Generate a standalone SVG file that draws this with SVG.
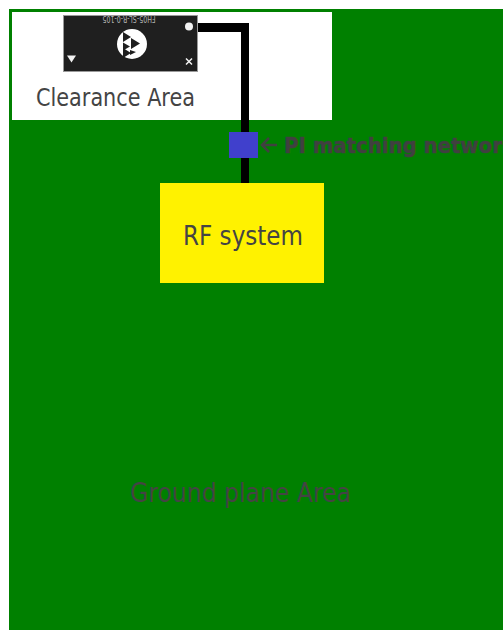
<svg xmlns="http://www.w3.org/2000/svg" width="503" height="630" viewBox="0 0 503 630">
<style>
.t{font-family:"DejaVu Sans",sans-serif;fill:#444}
.b{font-family:"DejaVu Sans",sans-serif;font-weight:700;fill:#404040;stroke:#404040;stroke-width:.5}
.w{fill:#000}
</style>
<rect width="503" height="630" fill="#fff"/>
<g id="ground-plane"><rect x="9" y="9" width="494" height="621" fill="#008000"/>
<text class="t" x="130" y="502" font-size="26" textLength="221" lengthAdjust="spacingAndGlyphs">Ground plane Area</text></g>
<g id="clearance-area"><rect x="12" y="12" width="320" height="108" fill="#fff"/>
<text class="t" x="36" y="106" font-size="24" fill="#4a4a4a" textLength="159" lengthAdjust="spacingAndGlyphs">Clearance Area</text></g>
<g id="connectors">
<path class="w" d="M197 23H249V183H241V32H197Z"/>
</g>
<g id="antenna-chip">
<rect x="63.500" y="15.500" width="134" height="56" fill="#1f1f1f" stroke="#9a9a9a"/>
<text transform="rotate(180 129 20)" x="129" y="24" font-family="DejaVu Sans,sans-serif" font-size="8" fill="#b5b5b5" text-anchor="middle" textLength="53" lengthAdjust="spacingAndGlyphs">FH05-SL-R-0-105</text>
<circle cx="189" cy="26.500" r="4" fill="#f2f2f2"/>
<path d="M67 55.500h9l-4.500 7z" fill="#f2f2f2"/>
<path d="M186 58.500l6 6M192 58.500l-6 6" stroke="#f2f2f2" stroke-width="1.500" fill="none"/>
<circle cx="132" cy="44" r="15" fill="#fff"/>
<path d="M123 32l8 5-8 5zM131 38l9 5.500-9 5.500zM123 42.500l7 4-7 4zM123 48l8 5-8 5zM130 50l6 2-6 3z" fill="#1f1f1f"/>
</g>
<g id="pi-matching-network"><rect x="229" y="132" width="29" height="26" fill="#4040cc"/>
<path d="M277 145H262M269 138l-7 7 7 7" stroke="#404040" stroke-width="2.500" fill="none"/>
<text class="b" x="284" y="153" font-size="21" textLength="231" lengthAdjust="spacingAndGlyphs">PI matching network</text></g>
<g id="rf-system"><rect x="160" y="183" width="164" height="100" fill="#fff200"/>
<text class="t" x="183" y="245" font-size="26" textLength="120" lengthAdjust="spacingAndGlyphs">RF system</text></g>
</svg>
